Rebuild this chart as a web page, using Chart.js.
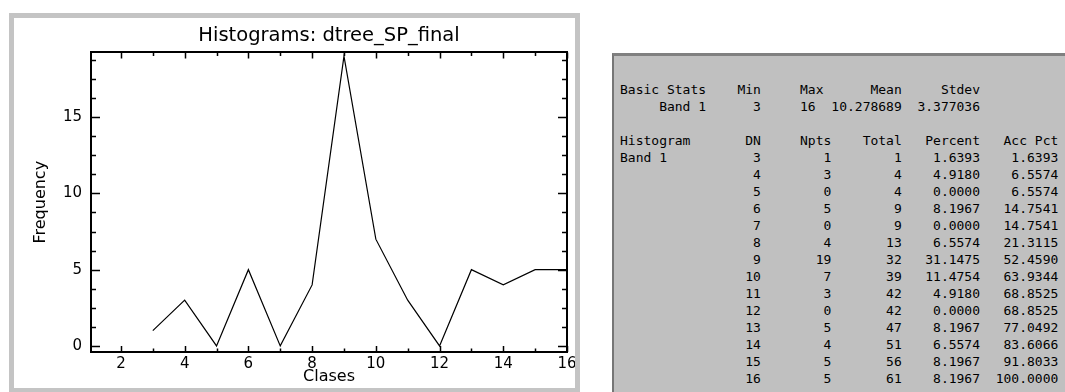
<!DOCTYPE html>
<html>
<head>
    <title>Histograms: dtree_SP_final</title>
    <script src="https://cdn.jsdelivr.net/npm/chart.js@4.4.1/dist/chart.umd.min.js"></script>
    <style>
        body { margin: 0; width: 1065px; height: 392px; background: #fff; position: relative; overflow: hidden; }
        .frame { position: absolute; left: 9px; top: 13px; width: 571px; height: 379px; box-sizing: border-box;
                 border: 5px solid #c4c4c4; border-bottom-width: 4px; background: #fff; }
        .frame canvas { display: block; }
        .stats { position: absolute; left: 612px; top: 53px; right: 0; bottom: 0; background: #c0c0c0;
                 border-top: 3px solid #808080; border-left: 2px solid #767676; }
        .stats pre { margin: 0; padding: 25px 0 0 6px; font-family: 'DejaVu Sans Mono', monospace;
                     font-size: 13px; line-height: 17px; color: #000; }
    </style>
</head>
<body>
    <div class="frame">
        <canvas id="histChart" width="561" height="370"></canvas>
    </div>
    <div class="stats"><pre id="statsText"></pre></div>

    <script>
        // histogram of band 1
        const classes = [3, 4, 5, 6, 7, 8, 9, 10, 11, 12, 13, 14, 15, 16];
        const counts = [1, 3, 0, 5, 0, 4, 19, 7, 3, 0, 5, 4, 5, 5];
        const totals = [1, 4, 4, 9, 9, 13, 32, 39, 42, 42, 47, 51, 56, 61];
        const percents = ['1.6393', '4.9180', '0.0000', '8.1967', '0.0000', '6.5574', '31.1475',
                          '11.4754', '4.9180', '0.0000', '8.1967', '6.5574', '8.1967', '8.1967'];
        const accPcts = ['1.6393', '6.5574', '6.5574', '14.7541', '14.7541', '21.3115', '52.4590',
                         '63.9344', '68.8525', '68.8525', '77.0492', '83.6066', '91.8033', '100.0000'];

        // basic stats
        const statMin = '3';
        const statMax = '16';
        const statMean = '10.278689';
        const statStdev = '3.377036';

        // axes
        const xTicks = [2, 4, 6, 8, 10, 12, 14, 16];
        const yTicks = [0, 5, 10, 15];
        const xMinorTicks = [2, 3, 4, 5, 6, 7, 8, 9, 10, 11, 12, 13, 14, 15, 16];
        const yMinorTicks = [0, 1.25, 2.5, 3.75, 5, 6.25, 7.5, 8.75, 10, 11.25, 12.5, 13.75, 15, 16.25, 17.5, 18.75];
        const xMin = 1.06, xMax = 16;
        const yMin = -0.4, yMax = 19.25;

        // --- text panel ---
        const lines = [];
        lines.push('Basic Stats' + 'Min'.padStart(7) + 'Max'.padStart(8) + 'Mean'.padStart(10) + 'Stdev'.padStart(10));
        lines.push('Band 1'.padStart(11) + statMin.padStart(7) + statMax.padStart(7) + statMean.padStart(11) + statStdev.padStart(10));
        lines.push('');
        lines.push('Histogram'.padEnd(11) + 'DN'.padStart(7) + 'Npts'.padStart(9) + 'Total'.padStart(9) +
                   'Percent'.padStart(10) + 'Acc Pct'.padStart(10));
        classes.forEach((c, i) => {
            lines.push((i === 0 ? 'Band 1' : '').padEnd(11) + String(c).padStart(7) + String(counts[i]).padStart(9) +
                       String(totals[i]).padStart(9) + percents[i].padStart(10) + accPcts[i].padStart(10));
        });
        document.getElementById('statsText').textContent = lines.join('\n');

        // --- chart ---
        Chart.defaults.color = '#000';
        Chart.defaults.font.family = "'DejaVu Sans', sans-serif";

        function fixSize(prop, size) {
            return function (scale) {
                scale[prop] = size;
                scale.paddingLeft = 0; scale.paddingRight = 0;
                scale.paddingTop = 0; scale.paddingBottom = 0;
            };
        }

        // small tick marks pointing into the plot, on all four sides
        const inwardTicks = {
            id: 'inwardTicks',
            afterDraw(chart) {
                const { ctx, chartArea: a, scales } = chart;
                ctx.save();
                ctx.strokeStyle = '#000';
                ctx.lineWidth = 1.5;
                ctx.beginPath();
                xMinorTicks.forEach(v => {
                    const px = Math.round(scales.x.getPixelForValue(v)) + 0.5;
                    const len = xTicks.includes(v) ? 6 : 3.5;
                    ctx.moveTo(px, a.bottom); ctx.lineTo(px, a.bottom - len);
                    ctx.moveTo(px, a.top); ctx.lineTo(px, a.top + len);
                });
                yMinorTicks.forEach(v => {
                    const py = Math.round(scales.y.getPixelForValue(v)) + 0.5;
                    const len = yTicks.includes(v) ? 9 : 5;
                    ctx.moveTo(a.left, py); ctx.lineTo(a.left + len, py);
                    ctx.moveTo(a.right, py); ctx.lineTo(a.right - len, py);
                });
                ctx.stroke();
                ctx.restore();
            }
        };

        const noGrid = { display: false, drawTicks: false };
        const blackBorder = { display: true, color: '#000', width: 2 };

        new Chart(document.getElementById('histChart'), {
            type: 'line',
            data: {
                datasets: [{
                    data: classes.map((c, i) => ({ x: c, y: counts[i] })),
                    borderColor: '#000',
                    borderWidth: 1.2,
                    pointRadius: 0,
                    tension: 0,
                    fill: false
                }]
            },
            options: {
                responsive: false,
                animation: false,
                devicePixelRatio: 1,
                layout: { padding: { left: 0, right: 8, top: 0, bottom: 0 } },
                plugins: {
                    legend: { display: false },
                    tooltip: { enabled: false },
                    title: {
                        display: true,
                        fullSize: false,
                        text: 'Histograms: dtree_SP_final',
                        font: { size: 19.5, weight: 'normal' },
                        padding: { top: 6, bottom: 5 }
                    }
                },
                scales: {
                    x: {
                        type: 'linear', position: 'bottom', min: xMin, max: xMax,
                        afterBuildTicks: s => { s.ticks = xTicks.map(v => ({ value: v })); },
                        afterFit: fixSize('height', 36),
                        grid: noGrid,
                        border: blackBorder,
                        ticks: { padding: 3, font: { size: 15 }, maxRotation: 0, autoSkip: false },
                        title: { display: true, text: 'Clases', font: { size: 16 }, padding: { top: 0, bottom: 2 } }
                    },
                    x2: {
                        type: 'linear', position: 'top', min: xMin, max: xMax,
                        afterFit: fixSize('height', 0),
                        grid: noGrid,
                        border: blackBorder,
                        ticks: { display: false }
                    },
                    y: {
                        type: 'linear', position: 'left', min: yMin, max: yMax,
                        afterBuildTicks: s => { s.ticks = yTicks.map(v => ({ value: v })); },
                        afterFit: fixSize('width', 77),
                        grid: noGrid,
                        border: blackBorder,
                        ticks: { padding: 9, font: { size: 15 } },
                        title: { display: true, text: 'Frequency', font: { size: 16 }, padding: { top: 17, bottom: 0 } }
                    },
                    y2: {
                        type: 'linear', position: 'right', min: yMin, max: yMax,
                        afterFit: fixSize('width', 0),
                        grid: noGrid,
                        border: blackBorder,
                        ticks: { display: false }
                    }
                }
            },
            plugins: [inwardTicks]
        });
    </script>
</body>
</html>
